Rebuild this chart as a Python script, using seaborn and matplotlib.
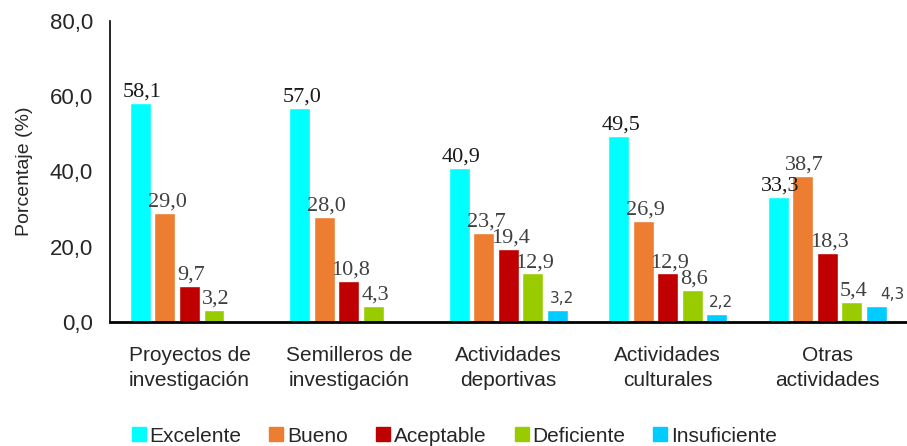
import pandas as pd
import matplotlib.pyplot as plt
import seaborn as sns
from matplotlib.lines import Line2D

# data
categorias = ["Proyectos de\ninvestigación", "Semilleros de\ninvestigación",
              "Actividades\ndeportivas", "Actividades\nculturales", "Otras\nactividades"]
niveles = ["Excelente", "Bueno", "Aceptable", "Deficiente", "Insuficiente"]
excelente = [58.1, 57.0, 40.9, 49.5, 33.3]
bueno = [29.0, 28.0, 23.7, 26.9, 38.7]
aceptable = [9.7, 10.8, 19.4, 12.9, 18.3]
deficiente = [3.2, 4.3, 12.9, 8.6, 5.4]
insuficiente = [0.0, 0.0, 3.2, 2.2, 4.3]
colores = ["#00FFFF", "#ED7D31", "#C00000", "#99CC00", "#00CCFF"]

rows = []
for nivel, vals in zip(niveles, [excelente, bueno, aceptable, deficiente, insuficiente]):
    for cat, v in zip(categorias, vals):
        rows.append({"categoria": cat, "nivel": nivel, "valor": v})
df = pd.DataFrame(rows)

sns.set_style("white")
plt.rcParams["font.family"] = ["Liberation Sans", "DejaVu Sans"]

fig = plt.figure(figsize=(9.07, 4.46), dpi=100)
ax = fig.add_axes([0.121, 0.278, 0.879, 0.675])

sns.barplot(data=df, x="categoria", y="valor", hue="nivel", order=categorias,
            hue_order=niveles, palette=colores, width=0.77, gap=0.15,
            errorbar=None, saturation=1, legend=False, ax=ax)

# value labels
for i, cont in enumerate(ax.containers):
    for bar in cont:
        h = bar.get_height()
        if h <= 0:
            continue
        lbl = f"{h:.1f}".replace(".", ",")
        x = bar.get_x() + bar.get_width() / 2
        if niveles[i] == "Insuficiente":
            ax.annotate(lbl, (x, h), xytext=(3, 3), textcoords="offset points",
                        ha="left" if h > 4 else "center", va="bottom",
                        fontsize=11, color="#404040", family=["DejaVu Sans"])
        else:
            ax.annotate(lbl, (x, h), xytext=(1.5, 1), textcoords="offset points",
                        ha="center", va="bottom", fontsize=16,
                        color="#1a1a1a" if i == 0 else "#404040",
                        family=["Liberation Serif", "DejaVu Serif"])

ax.set_xlim(-0.5, 4.5)
ax.set_ylim(0, 80)
ax.set_yticks([0, 20, 40, 60, 80])
ax.set_yticklabels([f"{t:.1f}".replace(".", ",") for t in [0, 20, 40, 60, 80]], fontsize=16)
ax.set_xlabel("")
ax.set_ylabel("Porcentaje (%)", fontsize=14, labelpad=12)
ax.tick_params(axis="x", labelsize=15, pad=17, length=0)
ax.tick_params(axis="y", length=0, pad=12)
ax.spines["top"].set_visible(False)
ax.spines["right"].set_visible(False)
ax.spines["left"].set_color("black")
ax.spines["left"].set_linewidth(1.2)
ax.spines["bottom"].set_color("black")
ax.spines["bottom"].set_linewidth(2)

handles = [Line2D([0], [0], marker="s", linestyle="", markersize=10,
                  markerfacecolor=c, markeredgecolor=c) for c in colores]
fig.legend(handles, niveles, loc="center", bbox_to_anchor=(0.5, 0.022), ncol=5,
           frameon=False, fontsize=15, handletextpad=0.1, columnspacing=1.3,
           handlelength=0.8)

# wider line spacing for the two-line category labels
fig.canvas.draw()
for t in ax.get_xticklabels():
    t.set_linespacing(1.45)

fig.savefig("out.png", dpi=100)
plt.close(fig)
